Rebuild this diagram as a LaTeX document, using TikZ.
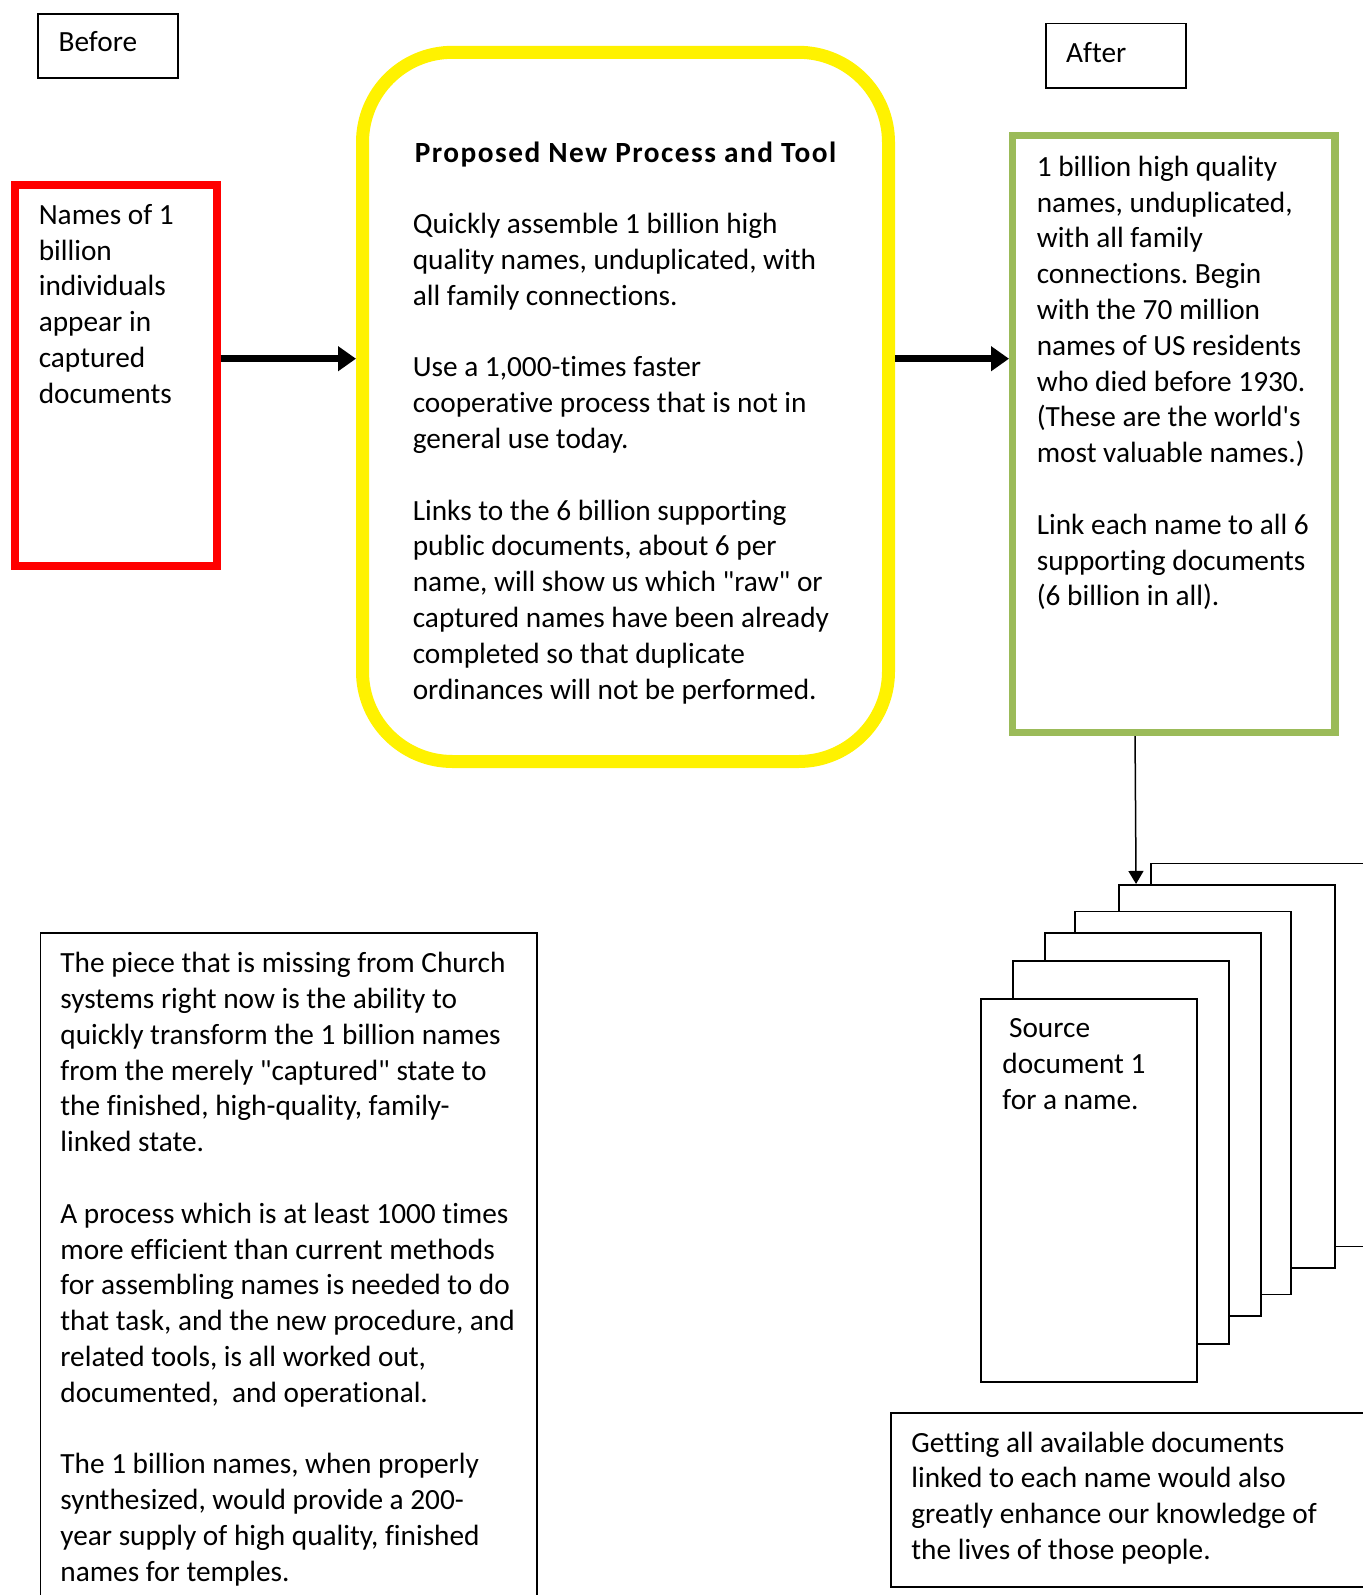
\documentclass[tikz,border=0pt]{standalone}
\usepackage{fontspec}
\setmainfont{Carlito}[Ligatures={TeX,NoCommon}]
\usetikzlibrary{positioning,arrows.meta}
\definecolor{wordgreen}{HTML}{9BBB59}
\newcommand{\bodyfont}{\fontsize{14.65pt}{17.9pt}\selectfont\frenchspacing}

\begin{document}
\begin{tikzpicture}[x=0.5pt, y=-0.5pt]
  % Define box, text and arrow styles
  \tikzstyle{myboxthin} = [draw=black, line width=0.9pt, rectangle, inner sep=0pt]
  \tikzstyle{myboxred} = [draw=red, line width=3.75pt, rectangle, inner sep=0pt]
  \tikzstyle{myboxyellow} = [draw=yellow, line width=6.5pt, rectangle,
  rounded corners=45pt, inner sep=0pt]
  \tikzstyle{myboxgreen} = [draw=wordgreen, line width=3.65pt, rectangle, inner sep=0pt]
  \tikzstyle{myboxdoc} = [myboxthin, line width=0.85pt, fill=white,
  minimum width=108pt, minimum height=191.5pt]
  \tikzstyle{mytext} = [inner sep=0pt, align=left, font=\bodyfont,
  execute at begin node={\spaceskip=0pt\xspaceskip=0pt\strut}]
  \tikzstyle{fatarrow} = [line width=3.5pt, -{Triangle[length=9pt, width=12pt]}]
  \tikzstyle{thinarrow} = [line width=0.75pt, -{Triangle[length=6.5pt, width=7.5pt]}]

  \useasboundingbox (0,0) rectangle (1363,1595);
  \clip (0,0) rectangle (1363,1595);

  % Before / After labels
  \node[myboxthin, minimum width=70.1pt, minimum height=32.1pt] (before) at (107.7,46) {};
  \node[mytext, text width=50pt, below right=6.45pt and 10.8pt of before.north west] (beforetxt) {Before};
  \node[myboxthin, minimum width=70.1pt, minimum height=32.25pt] (after) at (1115.7,55.85) {};
  \node[mytext, text width=50pt, below right=6.95pt and 10.5pt of after.north west] (aftertxt) {After};

  % Captured names
  \node[myboxred, minimum width=101pt, minimum height=190.55pt] (captured) at (115.95,375.3) {};
  \node[mytext, text width=80pt, below right=8.95pt and 13.6pt of captured.north west] (capturedtxt) {%
    Names of 1\\
    billion\\
    individuals\\
    appear in\\
    captured\\
    documents};

  % Proposed process
  \node[myboxyellow, minimum width=263pt, minimum height=354.6pt] (process) at (625.5,406.9) {};
  \node[mytext, text width=230pt, below right=45.4pt and 28.2pt of process.north west] (processtxt) {%
    {\bfseries\addfontfeatures{LetterSpace=5.1}\hspace{1pt}Proposed New Process and Tool}\\[\baselineskip]
    Quickly assemble 1 billion high\\
    quality names, unduplicated, with\\
    all family connections.\\[\baselineskip]
    Use a 1,000-times faster\\
    cooperative process that is not in\\
    general use today.\\[\baselineskip]
    Links to the 6 billion supporting\\
    public documents, about 6 per\\
    name, will show us which \textquotedbl raw\textquotedbl{} or\\
    captured names have been already\\
    completed so that duplicate\\
    ordinances will not be performed.};

  % Result
  \node[myboxgreen, minimum width=161.2pt, minimum height=298.35pt] (result) at (1173.85,434) {};
  \node[mytext, text width=150pt, below right=9.45pt and 13.7pt of result.north west] (resulttxt) {%
    1 billion high quality\\
    names, unduplicated,\\
    with all family\\
    connections. Begin\\
    with the 70 million\\
    names of US residents\\
    who died before 1930.\\
    (These are the world\textquotesingle s\\
    most valuable names.)\\[\baselineskip]
    Link each name to all 6\\
    supporting documents\\
    (6 billion in all).};

  % Stack of source documents, back to front
  \foreach \n/\cx/\cy in {6/1258.7/1054.9, 5/1226.9/1076.3, 4/1182.9/1103,
    3/1152.7/1124.5, 2/1120.7/1152.5, 1/1088.7/1190.5}
    \node[myboxdoc] (doc\n) at (\cx,\cy) {};
  \node[mytext, text width=95pt, below right=7.05pt and 11.1pt of doc1.north west] (doctxt) {%
    \ Source\\
    document 1\\
    for a name.};

  % Notes
  \node[myboxthin, minimum width=248.25pt, minimum height=383.35pt] (missing) at (288.75,1316.65) {};
  \node[mytext, text width=260pt, below right=7.45pt and 10.2pt of missing.north west] (missingtxt) {%
    The piece that is missing from Church\\
    systems right now is the ability to\\
    quickly transform the 1 billion names\\
    from the merely \textquotedbl captured\textquotedbl{} state to\\
    the finished, high-quality, family-\\
    linked state.\\[\baselineskip]
    A process which is at least 1000 times\\
    more efficient than current methods\\
    for assembling names is needed to do\\
    that task, and the new procedure, and\\
    related tools, is all worked out,\\
    documented,~ and operational.\\[\baselineskip]
    The 1 billion names, when properly\\
    synthesized, would provide a 200-\\
    year supply of high quality, finished\\
    names for temples.};
  \node[myboxthin, minimum width=279.65pt, minimum height=86.85pt] (knowledge) at (1170.35,1499.85) {};
  \node[mytext, text width=240pt, below right=7.25pt and 10.6pt of knowledge.north west] (knowledgetxt) {%
    Getting all available documents\\
    linked to each name would also\\
    greatly enhance our knowledge of\\
    the lives of those people.};

  % Connectors
  \draw[fatarrow] (captured.9.9) -- (captured.9.9 -| process.west);
  \draw[fatarrow] (captured.9.9 -| process.east) -- (captured.9.9 -| result.west);
  \draw[thinarrow] ([xshift=-19.4pt]result.south) -- ([xshift=9pt]doc5.north west);
\end{tikzpicture}
\end{document}
